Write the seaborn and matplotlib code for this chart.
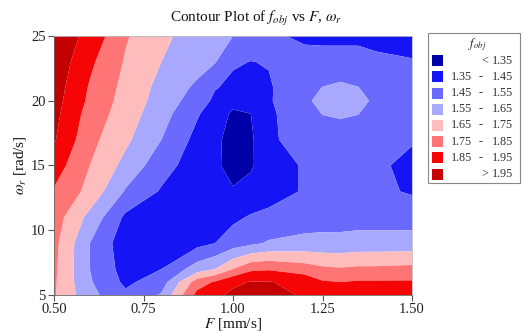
import numpy as np
import pandas as pd
import matplotlib
matplotlib.use("Agg")
import matplotlib.pyplot as plt
from matplotlib.patches import Rectangle
import seaborn as sns

# ---------------- data ----------------
F_values = [0.50, 0.60, 0.70, 0.80, 0.90, 0.95, 1.00, 1.05, 1.10,
            1.20, 1.25, 1.30, 1.35, 1.40, 1.50]
omega_values = [5, 6, 7, 9, 11, 13, 15, 17, 19, 20, 21, 23, 25]

fobj_w05 = [1.76, 1.58, 1.47, 1.56, 1.88, 1.93, 1.97, 1.98, 1.98, 1.94, 1.92, 1.92, 1.91, 1.90, 1.92]
fobj_w06 = [1.765, 1.56, 1.43, 1.50, 1.80, 1.86, 1.93, 1.955, 1.955, 1.92, 1.86, 1.85, 1.86, 1.86, 1.86]
fobj_w07 = [1.77, 1.55, 1.41, 1.45, 1.60, 1.65, 1.75, 1.83, 1.84, 1.80, 1.77, 1.76, 1.77, 1.77, 1.78]
fobj_w09 = [1.78, 1.55, 1.39, 1.38, 1.42, 1.45, 1.50, 1.53, 1.56, 1.58, 1.58, 1.58, 1.59, 1.59, 1.59]
fobj_w11 = [1.80, 1.62, 1.43, 1.39, 1.38, 1.40, 1.43, 1.46, 1.48, 1.50, 1.51, 1.51, 1.51, 1.51, 1.51]
fobj_w13 = [1.84, 1.72, 1.54, 1.44, 1.39, 1.38, 1.36, 1.38, 1.40, 1.46, 1.48, 1.49, 1.48, 1.47, 1.44]
fobj_w15 = [1.90, 1.75, 1.62, 1.49, 1.40, 1.37, 1.31, 1.34, 1.40, 1.46, 1.48, 1.49, 1.48, 1.47, 1.42]
fobj_w17 = [1.96, 1.78, 1.67, 1.55, 1.42, 1.38, 1.30, 1.335, 1.43, 1.50, 1.51, 1.51, 1.50, 1.48, 1.46]
fobj_w19 = [1.98, 1.81, 1.70, 1.59, 1.46, 1.40, 1.335, 1.35, 1.43, 1.52, 1.552, 1.56, 1.552, 1.50, 1.46]
fobj_w20 = [1.99, 1.83, 1.71, 1.61, 1.50, 1.43, 1.38, 1.39, 1.44, 1.53, 1.58, 1.60, 1.58, 1.53, 1.47]
fobj_w21 = [2.00, 1.84, 1.72, 1.62, 1.53, 1.455, 1.43, 1.43, 1.44, 1.52, 1.552, 1.565, 1.552, 1.51, 1.47]
fobj_w23 = [2.02, 1.87, 1.74, 1.65, 1.59, 1.555, 1.46, 1.448, 1.455, 1.49, 1.50, 1.50, 1.50, 1.47, 1.455]
fobj_w25 = [2.02, 1.92, 1.76, 1.67, 1.61, 1.58, 1.55, 1.51, 1.47, 1.43, 1.42, 1.42, 1.42, 1.42, 1.42]

level_bounds = [1.35, 1.45, 1.55, 1.65, 1.75, 1.85, 1.95]
legend_low = ["", "1.35", "1.45", "1.55", "1.65", "1.75", "1.85", ""]
legend_sep = ["<", "-", "-", "-", "-", "-", "-", ">"]
legend_high = ["1.35", "1.45", "1.55", "1.65", "1.75", "1.85", "1.95", "1.95"]
x_ticks = [0.50, 0.75, 1.00, 1.25, 1.50]
y_ticks = [5, 10, 15, 20, 25]

level_colors = ["#0000a8", "#1414f5", "#6a6aff", "#a8a8ff",
                "#ffbcbc", "#ff7474", "#f50505", "#c40000"]

# ---------------- build table ----------------
rows = [fobj_w05, fobj_w06, fobj_w07, fobj_w09, fobj_w11, fobj_w13, fobj_w15,
        fobj_w17, fobj_w19, fobj_w20, fobj_w21, fobj_w23, fobj_w25]
records = []
for w, r in zip(omega_values, rows):
    for f, v in zip(F_values, r):
        records.append({"F": f, "omega": w, "fobj": v})
df = pd.DataFrame(records)
grid = df.pivot(index="omega", columns="F", values="fobj")

# ---------------- style ----------------
sns.set_theme(style="ticks")
plt.rcParams["font.family"] = ["Liberation Serif", "DejaVu Serif"]
plt.rcParams["mathtext.fontset"] = "stix"

W, H = 523, 331
fig = plt.figure(figsize=(W / 100, H / 100), dpi=100)
ax = fig.add_axes([54 / W, 1 - 295 / H, (412 - 54) / W, (295 - 36) / H])

levels = [0.0] + level_bounds + [5.0]
ax.contourf(grid.columns.values, grid.index.values, grid.values,
            levels=levels, colors=level_colors, antialiased=True)

ax.set_xlim(0.5, 1.5)
ax.set_ylim(5, 25)
ax.set_xticks(x_ticks)
ax.set_xticklabels([f"{t:.2f}" for t in x_ticks])
ax.set_yticks(y_ticks)
ax.set_yticklabels([str(t) for t in y_ticks])
ax.tick_params(axis="both", direction="out", length=4, width=0.8,
               labelsize=10.5, colors="#555555", labelcolor="#222222", pad=2)
for s in ax.spines.values():
    s.set_color("#bbbbbb")
    s.set_linewidth(0.6)
ax.spines["left"].set_color("#666666")
ax.spines["bottom"].set_color("#666666")

ax.set_xlabel(r"$F$ [mm/s]", fontsize=11, color="#111111", labelpad=0)
ax.set_ylabel(r"$\omega_r$ [rad/s]", fontsize=11, color="#111111", labelpad=2)


def fx(px):
    return px / W


def fy(py):
    return 1 - py / H


fig.text(fx(256), fy(19), r"Contour Plot of $f_{obj}$ vs $F$, $\omega_r$",
         ha="center", va="center", fontsize=11, color="#111111")

# ---------------- legend (drawn in figure pixel positions) ----------------
fig.patches.append(Rectangle((fx(428), fy(183)), fx(520) - fx(428), fy(33) - fy(183),
                             transform=fig.transFigure, facecolor="white",
                             edgecolor="#888888", linewidth=0.8))
fig.text(fx(477), fy(45), r"$f_{obj}$", ha="center", va="center",
         fontsize=9, color="#222222")
for i, c in enumerate(level_colors):
    yc = 60.7 + 16.2 * i
    fig.patches.append(Rectangle((fx(432), fy(yc + 5.5)), fx(11), 11 / H,
                                 transform=fig.transFigure, facecolor=c,
                                 edgecolor="none"))
    if legend_low[i]:
        fig.text(fx(472), fy(yc), legend_low[i], ha="right", va="center",
                 fontsize=8.7, color="#333333")
        fig.text(fx(481), fy(yc), legend_sep[i], ha="center", va="center",
                 fontsize=8.7, color="#333333")
    else:
        fig.text(fx(485), fy(yc), legend_sep[i], ha="center", va="center",
                 fontsize=8.7, color="#333333")
    fig.text(fx(513), fy(yc), legend_high[i], ha="right", va="center",
             fontsize=8.7, color="#333333")

fig.savefig("out.png", dpi=100)
